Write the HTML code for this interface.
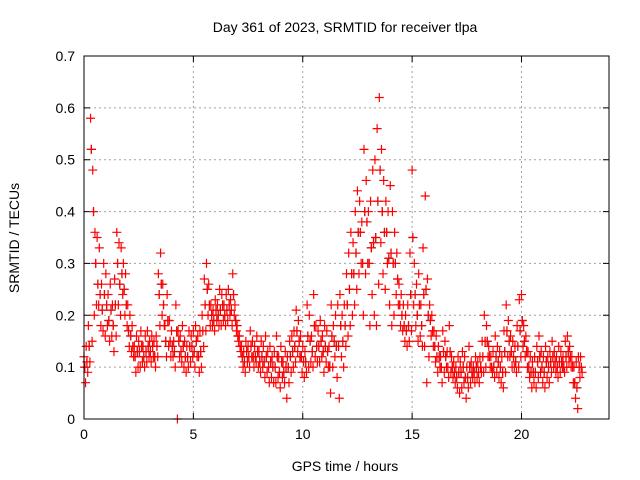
<!DOCTYPE html>
<html><head><meta charset="utf-8"><style>
body{margin:0;background:#fff;}
svg{display:block;font-family:"Liberation Sans",sans-serif;}
</style></head><body>
<svg id="chart" width="640" height="480" viewBox="0 0 640 480">
<text x="345" y="32" font-size="14" text-anchor="middle">Day 361 of 2023, SRMTID for receiver tlpa</text>
<text x="345" y="471" font-size="14" text-anchor="middle">GPS time / hours</text>
<text x="0" y="0" font-size="14" text-anchor="middle" transform="translate(19,238) rotate(-90)">SRMTID / TECUs</text>
<g id="grid"></g>
<g id="ticks"></g>
<g id="marks"></g>
<rect x="84" y="56" width="525" height="363" fill="none" stroke="#000" stroke-width="1"/>
</svg>
<script>
const xTicks=[0,5,10,15,20];
const yTicks=[0,0.1,0.2,0.3,0.4,0.5,0.6,0.7];
const yTickLabels=["0","0.1","0.2","0.3","0.4","0.5","0.6","0.7"];
const tStart=0, tStep=0.1;
const hiVals=[0.12,0.14,0.18,0.58,0.48,0.36,0.35,0.33,0.26,0.30,0.28,0.24,0.26,0.22,0.27,0.36,0.34,0.33,0.30,0.28,
0.22,0.20,0.18,0.14,0.16,0.15,0.17,0.14,0.16,0.17,0.15,0.16,0.15,0.16,0.28,0.32,0.26,0.18,0.24,0.19,
0.17,0.15,0.22,0.17,0.16,0.18,0.15,0.14,0.17,0.16,0.17,0.18,0.16,0.17,0.20,0.27,0.30,0.26,0.22,0.21,
0.23,0.22,0.25,0.24,0.22,0.24,0.25,0.23,0.28,0.22,0.18,0.16,0.14,0.13,0.15,0.14,0.17,0.15,0.14,0.16,
0.13,0.15,0.14,0.16,0.13,0.14,0.12,0.13,0.16,0.12,0.14,0.11,0.13,0.12,0.15,0.16,0.17,0.21,0.19,0.16,
0.14,0.13,0.22,0.20,0.16,0.24,0.18,0.17,0.19,0.16,0.18,0.17,0.14,0.22,0.18,0.20,0.22,0.24,0.20,0.22,
0.28,0.32,0.36,0.34,0.40,0.44,0.42,0.38,0.52,0.46,0.40,0.42,0.48,0.50,0.56,0.62,0.52,0.46,0.42,0.40,
0.45,0.40,0.36,0.32,0.26,0.24,0.22,0.20,0.22,0.32,0.48,0.30,0.26,0.28,0.22,0.33,0.43,0.27,0.22,0.20,
0.17,0.16,0.14,0.12,0.17,0.15,0.13,0.18,0.12,0.11,0.10,0.12,0.11,0.13,0.12,0.10,0.14,0.11,0.10,0.12,
0.11,0.12,0.15,0.20,0.18,0.14,0.12,0.13,0.16,0.14,0.13,0.12,0.17,0.22,0.19,0.16,0.15,0.14,0.18,0.23,
0.24,0.18,0.16,0.13,0.12,0.11,0.12,0.14,0.16,0.13,0.12,0.14,0.12,0.13,0.15,0.13,0.12,0.14,0.13,0.12,
0.15,0.16,0.14,0.12,0.10,0.11,0.12,0.12];
const midVals=[0.10,0.11,0.14,0.52,0.40,0.30,0.26,0.24,0.21,0.24,0.22,0.19,0.21,0.18,0.22,0.30,0.26,0.28,0.25,0.22,
0.17,0.16,0.14,0.12,0.13,0.13,0.14,0.12,0.13,0.14,0.13,0.14,0.12,0.14,0.24,0.26,0.22,0.15,0.19,0.15,
0.14,0.13,0.17,0.15,0.13,0.14,0.12,0.12,0.14,0.14,0.13,0.15,0.12,0.13,0.17,0.22,0.25,0.22,0.20,0.19,
0.21,0.20,0.21,0.22,0.20,0.21,0.22,0.21,0.24,0.19,0.16,0.14,0.12,0.11,0.13,0.12,0.14,0.12,0.12,0.13,
0.11,0.12,0.11,0.12,0.10,0.11,0.10,0.10,0.12,0.09,0.11,0.09,0.10,0.10,0.12,0.13,0.14,0.17,0.15,0.12,
0.11,0.11,0.16,0.15,0.13,0.18,0.14,0.14,0.15,0.13,0.14,0.13,0.10,0.16,0.15,0.14,0.14,0.18,0.15,0.18,
0.22,0.25,0.28,0.28,0.32,0.36,0.36,0.30,0.40,0.38,0.30,0.33,0.34,0.35,0.42,0.48,0.40,0.36,0.36,0.31,
0.32,0.30,0.30,0.27,0.22,0.20,0.18,0.17,0.18,0.24,0.35,0.24,0.20,0.22,0.18,0.24,0.25,0.20,0.19,0.17,
0.14,0.12,0.12,0.10,0.13,0.12,0.10,0.13,0.10,0.09,0.08,0.09,0.09,0.10,0.08,0.08,0.10,0.09,0.09,0.10,
0.09,0.10,0.12,0.15,0.15,0.12,0.10,0.10,0.12,0.11,0.10,0.09,0.13,0.17,0.15,0.13,0.12,0.11,0.14,0.17,
0.19,0.15,0.13,0.10,0.09,0.09,0.09,0.11,0.12,0.10,0.09,0.11,0.10,0.11,0.12,0.11,0.10,0.11,0.11,0.10,
0.12,0.13,0.12,0.10,0.07,0.06,0.10,0.10];
const loVals=[0.07,0.09,0.11,0.15,0.20,0.22,0.22,0.18,0.17,0.16,0.18,0.15,0.16,0.13,0.16,0.22,0.20,0.24,0.20,0.18,
0.14,0.13,0.12,0.09,0.10,0.10,0.11,0.10,0.11,0.12,0.11,0.12,0.10,0.12,0.18,0.20,0.18,0.12,0.14,0.12,
0.12,0.10,0.00,0.12,0.11,0.10,0.09,0.10,0.11,0.12,0.10,0.12,0.09,0.10,0.14,0.17,0.20,0.18,0.18,0.17,
0.19,0.18,0.18,0.19,0.18,0.19,0.20,0.18,0.20,0.17,0.15,0.13,0.10,0.09,0.11,0.10,0.12,0.10,0.11,0.10,
0.09,0.10,0.08,0.09,0.07,0.08,0.07,0.07,0.08,0.06,0.08,0.07,0.04,0.07,0.09,0.10,0.11,0.13,0.12,0.09,
0.08,0.09,0.10,0.11,0.10,0.12,0.11,0.11,0.12,0.09,0.11,0.10,0.05,0.10,0.12,0.08,0.04,0.12,0.10,0.14,
0.16,0.18,0.20,0.22,0.25,0.28,0.30,0.20,0.28,0.30,0.18,0.24,0.20,0.18,0.26,0.34,0.28,0.25,0.30,0.22,
0.18,0.20,0.24,0.22,0.18,0.17,0.15,0.14,0.15,0.17,0.22,0.18,0.15,0.16,0.14,0.14,0.07,0.12,0.16,0.14,
0.11,0.09,0.10,0.07,0.09,0.10,0.08,0.09,0.08,0.07,0.06,0.05,0.06,0.07,0.04,0.06,0.07,0.08,0.07,0.08,
0.07,0.09,0.09,0.10,0.12,0.10,0.09,0.08,0.09,0.08,0.07,0.06,0.09,0.12,0.12,0.10,0.10,0.09,0.10,0.12,
0.14,0.12,0.10,0.08,0.06,0.07,0.06,0.08,0.09,0.07,0.06,0.08,0.07,0.09,0.10,0.09,0.08,0.09,0.10,0.09,
0.10,0.11,0.10,0.07,0.04,0.02,0.08,0.09];
const X0=84,X1=609,Y0=419,Y1=56,XMAX=24,YMAX=0.7;
const sx=t=>X0+(X1-X0)*t/XMAX;
const sy=v=>Y0-(Y0-Y1)*v/YMAX;
const NS="http://www.w3.org/2000/svg";
const grid=document.getElementById('grid'),ticks=document.getElementById('ticks'),marks=document.getElementById('marks');
function mk(tag,attrs,parent){const e=document.createElementNS(NS,tag);for(const k in attrs)e.setAttribute(k,attrs[k]);parent.appendChild(e);return e;}
xTicks.forEach(t=>{
  const x=sx(t);
  if(t>0){const g=mk('line',{x1:x,x2:x,y1:Y1,y2:Y0,stroke:'#a0a0a0','stroke-dasharray':'2,3'},grid);
  
  }
  const l=mk('path',{d:`M${x},${Y0}v-6M${x},${Y1}v6`,stroke:'#000'},ticks);
  
  
  const tx=mk('text',{x:x,y:Y0+20,'font-size':14,'text-anchor':'middle'},ticks);
  tx.textContent=String(t);
  
  
});
yTicks.forEach((v,i)=>{
  const y=sy(v);
  if(v>0&&v<YMAX){const g=mk('line',{x1:X0,x2:X1,y1:y,y2:y,stroke:'#a0a0a0','stroke-dasharray':'2,3'},grid);
  
  }
  const l=mk('path',{d:`M${X0},${y}h6M${X1},${y}h-6`,stroke:'#000'},ticks);
  
  
  const tx=mk('text',{x:X0-9,y:y+5,'font-size':14,'text-anchor':'end'},ticks);
  tx.textContent=yTickLabels[i];
  
  
});
function plus(t,v,color){
  const x=sx(t),y=sy(v);
  const p=mk('path',{d:`M${x-4.5},${y}h9M${x},${y-4.5}v9`,stroke:color,'stroke-width':1.2,fill:'none'},marks);
  
  
}
midVals.forEach((v,i)=>plus(tStart+i*tStep+0.035,v,'#404040'));
hiVals.forEach((v,i)=>plus(tStart+i*tStep,v,'#ff0000'));
midVals.forEach((v,i)=>plus(tStart+i*tStep+0.035,v,'#ff0000'));
loVals.forEach((v,i)=>plus(tStart+i*tStep+0.07,v,'#ff0000'));
</script>
</body></html>
